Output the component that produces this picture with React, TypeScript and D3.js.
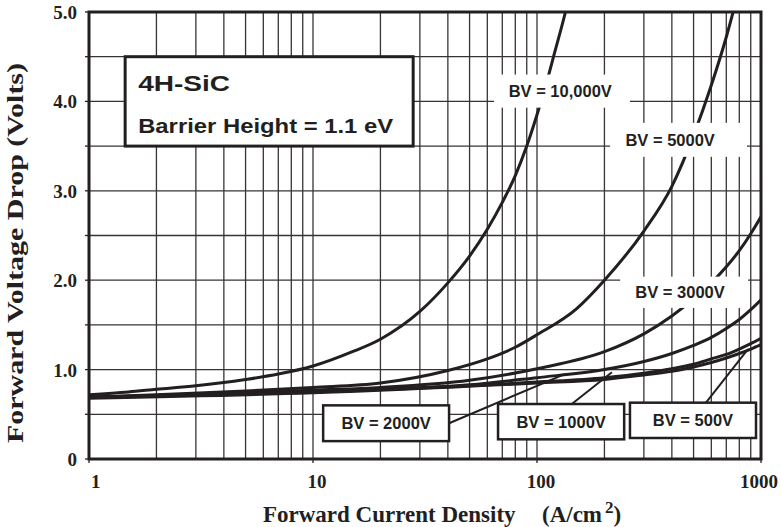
import * as d3 from "d3";

// forward current density (A/cm^2) and forward drop (V)
const bv10000J = [1, 1.5, 2, 3, 5, 7, 10, 15, 20, 30, 40, 50, 60, 70, 80, 90, 100, 110, 120, 134, 140];
const bv10000V = [0.72, 0.75, 0.78, 0.82, 0.89, 0.95, 1.04, 1.2, 1.34, 1.65, 1.97, 2.27, 2.57, 2.87, 3.17, 3.5, 3.85, 4.2, 4.55, 5.0, 5.2];

const bv5000J = [1, 2, 5, 10, 20, 40, 60, 80, 100, 150, 200, 300, 400, 500, 600, 700, 760];
const bv5000V = [0.69, 0.72, 0.76, 0.8, 0.85, 0.99, 1.12, 1.25, 1.39, 1.68, 2.0, 2.55, 3.05, 3.62, 4.18, 4.72, 5.05];

const bv3000J = [1, 2, 5, 10, 20, 50, 100, 200, 300, 400, 500, 600, 700, 800, 900, 1000];
const bv3000V = [0.69, 0.71, 0.74, 0.77, 0.8, 0.88, 1.01, 1.2, 1.4, 1.6, 1.79, 1.97, 2.15, 2.33, 2.52, 2.71];

const bv2000J = [1, 10, 50, 100, 200, 300, 400, 500, 600, 700, 800, 900, 1000];
const bv2000V = [0.69, 0.76, 0.83, 0.91, 1.0, 1.09, 1.18, 1.27, 1.36, 1.46, 1.56, 1.67, 1.78];

const bv1000J = [1, 10, 100, 200, 300, 400, 500, 600, 700, 800, 900, 1000];
const bv1000V = [0.69, 0.75, 0.86, 0.91, 0.96, 1.01, 1.06, 1.12, 1.17, 1.23, 1.29, 1.35];

const bv500J = [1, 10, 100, 200, 300, 400, 500, 600, 700, 800, 900, 1000];
const bv500V = [0.68, 0.74, 0.85, 0.89, 0.94, 0.98, 1.03, 1.08, 1.13, 1.18, 1.23, 1.28];

const xTickValues = [1, 10, 100, 1000];
const xTickLabels = ["1", "10", "100", "1000"];
const yTickValues = [0, 1, 2, 3, 4, 5];
const yTickLabels = ["0", "1.0", "2.0", "3.0", "4.0", "5.0"];

const series = [
  { J: bv10000J, V: bv10000V },
  { J: bv5000J, V: bv5000V },
  { J: bv3000J, V: bv3000V },
  { J: bv2000J, V: bv2000V },
  { J: bv1000J, V: bv1000V },
  { J: bv500J, V: bv500V },
];

// white labels without border (sit on the curve), in data units
const openLabels = [
  { text: "BV = 10,000V", j0: 64.3, j1: 260, v0: 4.3, v1: 3.93, tj: 127 },
  { text: "BV = 5000V", j0: 212, j1: 866, v0: 3.76, v1: 3.38, tj: 393 },
  { text: "BV = 3000V", j0: 235, j1: 875, v0: 2.04, v1: 1.69, tj: 435 },
];

// boxed labels with leader lines
const boxLabels = [
  { text: "BV = 2000V", j0: 11.1, j1: 40.5, v0: 0.6, v1: 0.2, lead: [[40.5, 0.4], [133, 0.95]] },
  { text: "BV = 1000V", j0: 67, j1: 245, v0: 0.615, v1: 0.22, lead: [[143, 0.615], [216, 0.97]] },
  { text: "BV = 500V", j0: 260, j1: 950, v0: 0.63, v1: 0.235, lead: [[568, 0.63], [875, 1.23]] },
];

const W = 781;
const H = 527;
const margin = { top: 12, right: 20, bottom: 68, left: 89 };
const ink = "#231f20";
const serif = "'Liberation Serif', 'Times New Roman', serif";
const sans = "'Liberation Sans', Arial, sans-serif";

export default function App() {
  const x = d3.scaleLog().domain([1, 1000]).range([margin.left, W - margin.right]);
  const y = d3.scaleLinear().domain([0, 5]).range([H - margin.bottom, margin.top]);

  const x0 = margin.left, x1 = W - margin.right;
  const y0 = H - margin.bottom, y1 = margin.top;

  const vGrid: number[] = [];
  [1, 10, 100].forEach((d) => {
    for (let k = 1; k < 10; k++) vGrid.push(d * k);
  });
  vGrid.push(1000);
  const hGrid = d3.range(0, 5.01, 0.5);

  const line = d3
    .line<[number, number]>()
    .x((d) => x(d[0]))
    .y((d) => y(d[1]))
    .curve(d3.curveMonotoneX);

  return (
    <svg
      width={W}
      height={H}
      style={{ position: "absolute", left: 0, top: 0, background: "#fff" }}
    >
      <defs>
        <clipPath id="plot">
          <rect x={x0} y={y1} width={x1 - x0} height={y0 - y1} />
        </clipPath>
      </defs>

      {/* grid */}
      <g stroke={ink} strokeWidth={1.3} opacity={0.9}>
        {vGrid.map((v) => (
          <line key={"v" + v} x1={x(v)} x2={x(v)} y1={y1} y2={y0} />
        ))}
        {hGrid.map((v) => (
          <line key={"h" + v} x1={x0} x2={x1} y1={y(v)} y2={y(v)} />
        ))}
      </g>

      {/* ticks */}
      <g stroke={ink} strokeWidth={1.3}>
        {hGrid.map((v) => (
          <line key={"yt" + v} x1={x0 - 4} x2={x0} y1={y(v)} y2={y(v)} />
        ))}
        {xTickValues.map((v) => (
          <line key={"xt" + v} x1={x(v)} x2={x(v)} y1={y0} y2={y0 + 4} />
        ))}
      </g>

      {/* curves */}
      <g clipPath="url(#plot)" fill="none" stroke={ink} strokeWidth={3} strokeLinejoin="round">
        {series.map((s, i) => (
          <path key={i} d={line(s.J.map((j, k) => [j, s.V[k]] as [number, number])) || ""} />
        ))}
      </g>

      {/* title box */}
      <rect
        x={x(1.45)}
        y={y(4.5)}
        width={x(28) - x(1.45)}
        height={y(3.5) - y(4.5)}
        fill="#fff"
        stroke={ink}
        strokeWidth={3}
      />
      <text
        x={x(1.45) + 13}
        y={y(4.5) + 34}
        fontFamily={sans}
        fontWeight="bold"
        fontSize={22}
        fill={ink}
        textLength={92}
        lengthAdjust="spacingAndGlyphs"
      >
        4H-SiC
      </text>
      <text
        x={x(1.45) + 13}
        y={y(4.5) + 76}
        fontFamily={sans}
        fontWeight="bold"
        fontSize={20}
        fill={ink}
        textLength={255}
        lengthAdjust="spacingAndGlyphs"
      >
        Barrier Height = 1.1 eV
      </text>

      {/* open labels */}
      {openLabels.map((l) => (
        <g key={l.text}>
          <rect x={x(l.j0)} y={y(l.v0)} width={x(l.j1) - x(l.j0)} height={y(l.v1) - y(l.v0)} fill="#fff" />
          <text
            x={x(l.tj)}
            y={(y(l.v0) + y(l.v1)) / 2 + 6}
            textAnchor="middle"
            fontFamily={sans}
            fontWeight="bold"
            fontSize={16.5}
            fill={ink}
          >
            {l.text}
          </text>
        </g>
      ))}

      {/* boxed labels */}
      {boxLabels.map((l) => (
        <g key={l.text}>
          <line
            x1={x(l.lead[0][0])}
            y1={y(l.lead[0][1])}
            x2={x(l.lead[1][0])}
            y2={y(l.lead[1][1])}
            stroke={ink}
            strokeWidth={2}
          />
          <rect
            x={x(l.j0)}
            y={y(l.v0)}
            width={x(l.j1) - x(l.j0)}
            height={y(l.v1) - y(l.v0)}
            fill="#fff"
            stroke={ink}
            strokeWidth={2.5}
          />
          <text
            x={(x(l.j0) + x(l.j1)) / 2}
            y={(y(l.v0) + y(l.v1)) / 2 + 6}
            textAnchor="middle"
            fontFamily={sans}
            fontWeight="bold"
            fontSize={16.5}
            fill={ink}
          >
            {l.text}
          </text>
        </g>
      ))}

      {/* frame */}
      <rect x={x0} y={y1} width={x1 - x0} height={y0 - y1} fill="none" stroke={ink} strokeWidth={3} />

      {/* tick labels */}
      <g fontFamily={serif} fontWeight="bold" fontSize={19} fill={ink}>
        {yTickValues.map((v, i) => (
          <text key={"yl" + v} x={x0 - 12} y={y(v) + 7} textAnchor="end">
            {yTickLabels[i]}
          </text>
        ))}
        {xTickValues.map((v, i) => {
          const last = i === xTickValues.length - 1;
          const first = i === 0;
          return (
            <text
              key={"xl" + v}
              x={first ? x(v) + 2 : last ? x(v) + 17 : x(v) + 4}
              y={488}
              textAnchor={first ? "start" : last ? "end" : "middle"}
            >
              {xTickLabels[i]}
            </text>
          );
        })}
      </g>

      {/* axis titles */}
      <text x={263} y={522} fontFamily={serif} fontWeight="bold" fontSize={23} fill={ink}>
        Forward Current Density
      </text>
      <text x={542} y={522} fontFamily={serif} fontWeight="bold" fontSize={23} fill={ink}>
        (A/cm
        <tspan fontSize={17} dy={-9} dx={3}>2</tspan>
        <tspan dy={9}>)</tspan>
      </text>
      <text
        transform={`translate(23, 443) rotate(-90)`}
        fontFamily={serif}
        fontWeight="bold"
        fontSize={23}
        fill={ink}
        textLength={380}
        lengthAdjust="spacingAndGlyphs"
      >
        Forward Voltage Drop  (Volts)
      </text>
    </svg>
  );
}
